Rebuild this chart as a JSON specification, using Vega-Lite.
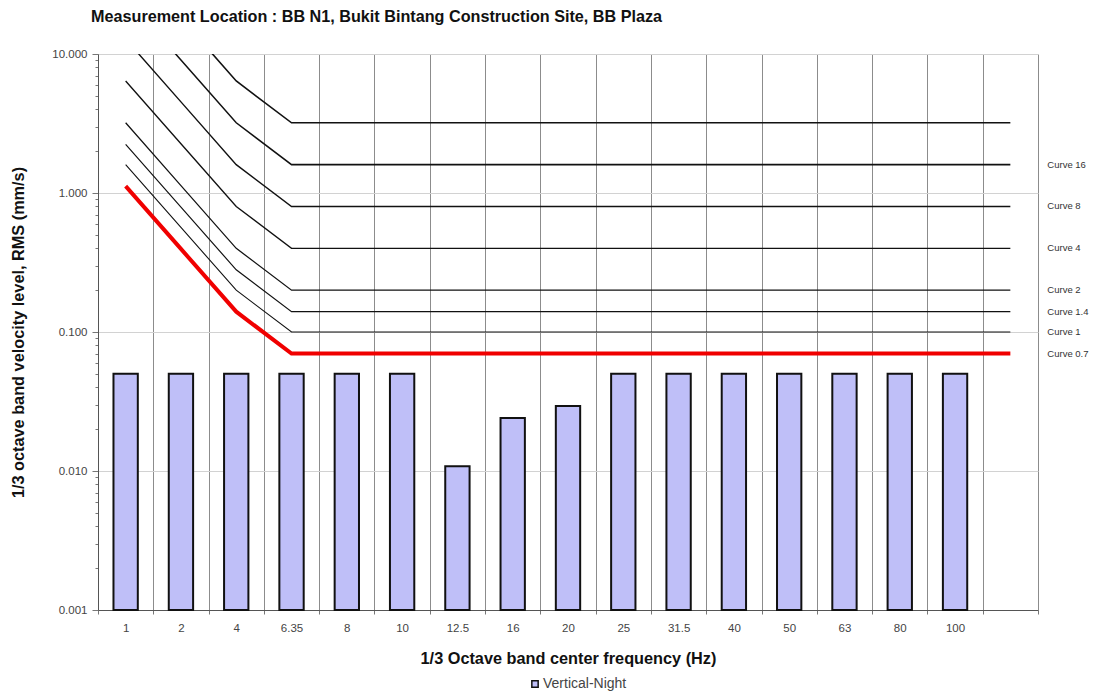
{
  "$schema": "https://vega.github.io/schema/vega-lite/v6.json",
  "width": 940,
  "height": 556,
  "autosize": {"type": "none"},
  "padding": {"left": 98, "top": 54, "right": 56, "bottom": 86},
  "background": "white",
  "config": {
    "font": "Liberation Sans",
    "view": {"stroke": null}
  },
  "title": {
    "text": "Measurement Location : BB N1, Bukit Bintang Construction Site, BB Plaza",
    "anchor": "start",
    "frame": "group",
    "dx": -7,
    "offset": 23,
    "fontSize": 16.2,
    "fontWeight": "bold",
    "color": "#111"
  },
  "datasets": {
    "bars": [
      {"band": "1", "v": 0.05, "series": "Vertical-Night"},
      {"band": "2", "v": 0.05, "series": "Vertical-Night"},
      {"band": "4", "v": 0.05, "series": "Vertical-Night"},
      {"band": "6.35", "v": 0.05, "series": "Vertical-Night"},
      {"band": "8", "v": 0.05, "series": "Vertical-Night"},
      {"band": "10", "v": 0.05, "series": "Vertical-Night"},
      {"band": "12.5", "v": 0.0108, "series": "Vertical-Night"},
      {"band": "16", "v": 0.0241, "series": "Vertical-Night"},
      {"band": "20", "v": 0.0294, "series": "Vertical-Night"},
      {"band": "25", "v": 0.05, "series": "Vertical-Night"},
      {"band": "31.5", "v": 0.05, "series": "Vertical-Night"},
      {"band": "40", "v": 0.05, "series": "Vertical-Night"},
      {"band": "50", "v": 0.05, "series": "Vertical-Night"},
      {"band": "63", "v": 0.05, "series": "Vertical-Night"},
      {"band": "80", "v": 0.05, "series": "Vertical-Night"},
      {"band": "100", "v": 0.05, "series": "Vertical-Night"}
    ],
    "curves": [
      {"curve": "Curve 0.7", "band": "1", "v": 1.12},
      {"curve": "Curve 0.7", "band": "2", "v": 0.396},
      {"curve": "Curve 0.7", "band": "4", "v": 0.14},
      {"curve": "Curve 0.7", "band": "6.35", "v": 0.07},
      {"curve": "Curve 0.7", "band": "", "v": 0.07},
      {"curve": "Curve 1", "band": "1", "v": 1.6},
      {"curve": "Curve 1", "band": "2", "v": 0.566},
      {"curve": "Curve 1", "band": "4", "v": 0.2},
      {"curve": "Curve 1", "band": "6.35", "v": 0.1},
      {"curve": "Curve 1", "band": "", "v": 0.1},
      {"curve": "Curve 1.4", "band": "1", "v": 2.24},
      {"curve": "Curve 1.4", "band": "2", "v": 0.792},
      {"curve": "Curve 1.4", "band": "4", "v": 0.28},
      {"curve": "Curve 1.4", "band": "6.35", "v": 0.14},
      {"curve": "Curve 1.4", "band": "", "v": 0.14},
      {"curve": "Curve 2", "band": "1", "v": 3.2},
      {"curve": "Curve 2", "band": "2", "v": 1.131},
      {"curve": "Curve 2", "band": "4", "v": 0.4},
      {"curve": "Curve 2", "band": "6.35", "v": 0.2},
      {"curve": "Curve 2", "band": "", "v": 0.2},
      {"curve": "Curve 4", "band": "1", "v": 6.4},
      {"curve": "Curve 4", "band": "2", "v": 2.263},
      {"curve": "Curve 4", "band": "4", "v": 0.8},
      {"curve": "Curve 4", "band": "6.35", "v": 0.4},
      {"curve": "Curve 4", "band": "", "v": 0.4},
      {"curve": "Curve 8", "band": "1", "v": 12.8},
      {"curve": "Curve 8", "band": "2", "v": 4.525},
      {"curve": "Curve 8", "band": "4", "v": 1.6},
      {"curve": "Curve 8", "band": "6.35", "v": 0.8},
      {"curve": "Curve 8", "band": "", "v": 0.8},
      {"curve": "Curve 16", "band": "1", "v": 25.6},
      {"curve": "Curve 16", "band": "2", "v": 9.051},
      {"curve": "Curve 16", "band": "4", "v": 3.2},
      {"curve": "Curve 16", "band": "6.35", "v": 1.6},
      {"curve": "Curve 16", "band": "", "v": 1.6},
      {"curve": "Curve 32", "band": "1", "v": 51.2},
      {"curve": "Curve 32", "band": "2", "v": 18.1},
      {"curve": "Curve 32", "band": "4", "v": 6.4},
      {"curve": "Curve 32", "band": "6.35", "v": 3.2},
      {"curve": "Curve 32", "band": "", "v": 3.2}
    ]
  },
  "encoding": {
    "x": {
      "field": "band",
      "type": "ordinal",
      "sort": null,
      "scale": {
        "domain": ["1", "2", "4", "6.35", "8", "10", "12.5", "16", "20", "25", "31.5", "40", "50", "63", "80", "100", ""],
        "paddingInner": 0,
        "paddingOuter": 0
      },
      "axis": {
        "title": "1/3 Octave band center frequency (Hz)",
        "titleFontSize": 16.3,
        "titleFontWeight": "bold",
        "titleColor": "#111",
        "titleY": 48,
        "titleBaseline": "middle",
        "labelAngle": 0,
        "labelFontSize": 11.5,
        "labelColor": "#444",
        "labelPadding": 8,
        "tickBand": "extent",
        "tickSize": 4,
        "tickColor": "#777",
        "domainColor": "#555",
        "grid": true,
        "gridColor": "#8c8c8c",
        "gridWidth": 1
      }
    },
    "y": {
      "field": "v",
      "type": "quantitative",
      "scale": {"type": "log", "domain": [0.001, 10], "nice": false},
      "axis": {
        "title": "1/3 octave band velocity level, RMS  (mm/s)",
        "titleFontSize": 16.3,
        "titleFontWeight": "bold",
        "titleColor": "#111",
        "titleX": -80,
        "titleY": 278,
        "titleBaseline": "middle",
        "values": [0.001, 0.002, 0.003, 0.004, 0.005, 0.006, 0.007, 0.008, 0.009,
                   0.01, 0.02, 0.03, 0.04, 0.05, 0.06, 0.07, 0.08, 0.09,
                   0.1, 0.2, 0.3, 0.4, 0.5, 0.6, 0.7, 0.8, 0.9,
                   1, 2, 3, 4, 5, 6, 7, 8, 9, 10],
        "labelExpr": "indexof([0.001, 0.01, 0.1, 1, 10], datum.value) >= 0 ? format(datum.value, '.3f') : ''",
        "labelFontSize": 11.5,
        "labelColor": "#444",
        "labelPadding": 5,
        "tickSize": {"condition": {"test": "indexof([0.001, 0.01, 0.1, 1, 10], datum.value) >= 0", "value": 6}, "value": 3},
        "tickColor": "#777",
        "domainColor": "#555",
        "grid": true,
        "gridColor": "#d2d2d2",
        "gridOpacity": {"condition": {"test": "indexof([0.001, 0.01, 0.1, 1, 10], datum.value) >= 0", "value": 1}, "value": 0}
      }
    }
  },
  "layer": [
    {
      "data": {"name": "bars"},
      "mark": {"type": "bar", "width": {"band": 0.44}, "stroke": "#111", "strokeWidth": 2},
      "encoding": {
        "y2": {"datum": 0.001},
        "fill": {
          "field": "series",
          "type": "nominal",
          "scale": {"domain": ["Vertical-Night"], "range": ["#bfbff8"]},
          "legend": {
            "title": null,
            "orient": "none",
            "legendX": 430,
            "legendY": 623,
            "symbolType": "square",
            "symbolSize": 40,
            "symbolStrokeColor": "#111",
            "symbolStrokeWidth": 1.5,
            "labelFontSize": 14,
            "labelColor": "#444",
            "labelOffset": 1
          }
        }
      }
    },
    {
      "data": {"name": "curves"},
      "transform": [{"filter": "datum.curve !== 'Curve 0.7'"}],
      "mark": {"type": "line", "clip": true, "color": "#111"},
      "encoding": {
        "detail": {"field": "curve"},
        "strokeWidth": {
          "field": "curve",
          "type": "nominal",
          "scale": {"domain": ["Curve 1", "Curve 1.4", "Curve 2", "Curve 4", "Curve 8", "Curve 16", "Curve 32"], "range": [1.1, 1.6, 1.6, 1.6, 1.6, 1.6, 1.6]},
          "legend": null
        }
      }
    },
    {
      "data": {"name": "curves"},
      "transform": [{"filter": "datum.curve === 'Curve 0.7'"}],
      "mark": {"type": "line", "clip": true, "color": "#f00000", "strokeWidth": 4}
    },
    {
      "data": {"name": "curves"},
      "transform": [{"filter": "datum.band === '' && datum.curve !== 'Curve 32'"}],
      "mark": {"type": "text", "align": "left", "baseline": "middle", "dx": 37, "fontSize": 9.5, "color": "#333"},
      "encoding": {"text": {"field": "curve"}}
    }
  ]
}
